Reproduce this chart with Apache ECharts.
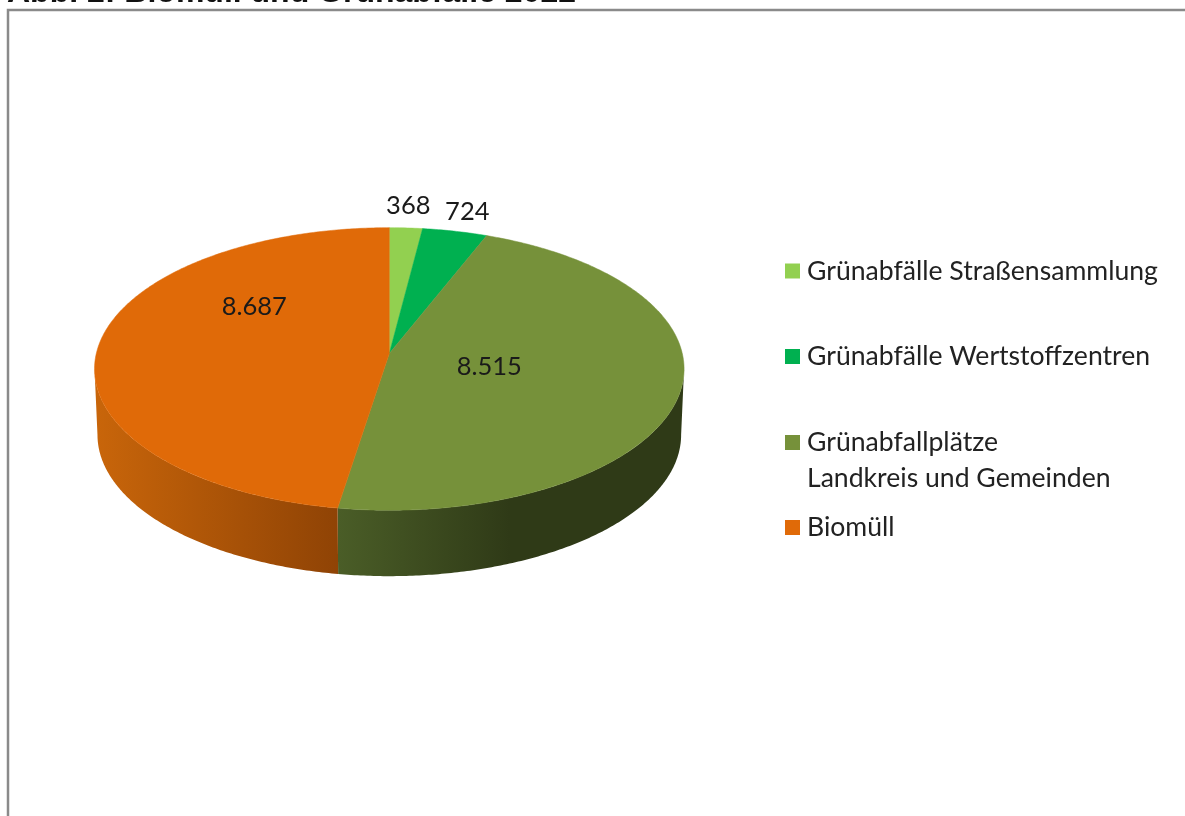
<!DOCTYPE html>
<html>
<head>
<meta charset="utf-8">
<title>Biomüll und Grünabfälle 2022</title>
<style>
  html, body { margin: 0; padding: 0; background: #fff; overflow: hidden; }
  #chart { width: 1185px; height: 816px; }
</style>
<script src="https://cdn.jsdelivr.net/npm/echarts@6/dist/echarts.min.js"></script>
</head>
<body>
<div id="chart"></div>
<script>
const titleText = 'Abb. 2: Biomüll und Grünabfälle 2022'
const categories = [
  'Grünabfälle Straßensammlung',
  'Grünabfälle Wertstoffzentren',
  'Grünabfallplätze\nLandkreis und Gemeinden',
  'Biomüll'
]
const values = [368, 724, 8515, 8687]

const topColors = ['#92D050', '#00B050', '#76913A', '#E06A08']
const sideStops = [null, null, ['#4A5D27', '#2F3A17'], ['#C8650A', '#8F4305']]
const sideFadeX = [null, null, [339, 510], [98, 339]]
// label position, px offset from the pie apex
const labelOffsets = [[19, -148], [78, -142], [100, 13], [-135, -47]]
const legendTops = [253, 338.5, 388.5, 509.5]

// perspective of the tilted disc, fitted to the picture
const tilt = 0.1095
const depth = 0.472
const baseScale = 0.99
const apex = [389.3, 353.5]
const radiusX = 293
const radiusY = 139.6
const fontName = 'Lato, Carlito, "Noto Sans", sans-serif'

const total = values.reduce((a, b) => a + b, 0)
const sideFrom = Math.acos(-tilt)
const sideTo = Math.PI * 2 - sideFrom

function rim(t, low) {
  const w = 1 + tilt * Math.cos(t)
  const x = Math.sin(t) / w
  const y = Math.cos(t) / w
  return low ? [x * baseScale, y - depth] : [x, y]
}

function arcPoints(from, to, low, api) {
  const steps = Math.max(2, Math.ceil((to - from) / 0.01))
  const pts = []
  for (let i = 0; i <= steps; i++) {
    pts.push(api.coord(rim(from + (to - from) * i / steps, low)))
  }
  return pts
}

function renderSlice(index) {
  return function(params, api) {
    const from = api.value(0)
    const to = api.value(1)
    const children = []

    const sFrom = Math.max(from, sideFrom)
    const sTo = Math.min(to, sideTo)
    if (sideStops[index] && sTo > sFrom) {
      const pts = arcPoints(sFrom, sTo, false, api).concat(arcPoints(sFrom, sTo, true, api).reverse())
      const fill = new echarts.graphic.LinearGradient(sideFadeX[index][0], 0, sideFadeX[index][1], 0, [
        { offset: 0, color: sideStops[index][0] },
        { offset: 1, color: sideStops[index][1] }
      ], true)
      children.push({ type: 'polygon', shape: { points: pts }, style: { fill: fill } })
    }

    const center = api.coord([0, 0])
    children.push({
      type: 'polygon',
      shape: { points: [center].concat(arcPoints(from, to, false, api)) },
      style: { fill: topColors[index], stroke: topColors[index], lineWidth: 0.5 }
    })

    children.push({
      type: 'text',
      x: center[0] + labelOffsets[index][0],
      y: center[1] + labelOffsets[index][1],
      style: {
        text: api.value(2).toLocaleString('de-DE'),
        fontFamily: fontName,
        fontSize: 25.5,
        fill: '#1a1a1a',
        align: 'center',
        verticalAlign: 'middle'
      }
    })
    return { type: 'group', children: children }
  }
}

let running = 0
const series = categories.map((name, i) => {
  const from = running / total * Math.PI * 2
  running += values[i]
  const to = running / total * Math.PI * 2
  return {
    type: 'custom',
    name: name,
    coordinateSystem: 'cartesian2d',
    silent: true,
    clip: false,
    itemStyle: { color: topColors[i] },
    renderItem: renderSlice(i),
    data: [[from, to, values[i]]],
    encode: { x: 0, y: 1 }
  }
})

const legends = categories.map((name, i) => ({
  data: [name],
  left: 785,
  top: legendTops[i],
  icon: 'rect',
  itemWidth: 15,
  itemHeight: 15,
  itemGap: 0,
  padding: 0,
  selectedMode: false,
  textStyle: {
    fontFamily: fontName,
    fontSize: 26.6,
    lineHeight: 36,
    color: '#222',
    padding: [0, 0, 0, 2]
  }
}))
// blank first line keeps the square level with the upper line of the two-line entry
legends[2].formatter = name => '\n' + name

const chart = echarts.init(document.getElementById('chart'), null, { renderer: 'canvas' })
chart.setOption({
  animation: false,
  backgroundColor: '#fff',
  grid: {
    left: apex[0] - radiusX,
    top: apex[1] - radiusY,
    width: radiusX * 2,
    height: radiusY * 2.5
  },
  xAxis: { type: 'value', min: -1, max: 1, show: false },
  yAxis: { type: 'value', min: -1.5, max: 1, show: false },
  legend: legends,
  graphic: [{
    type: 'polyline',
    shape: { points: [[8, 816], [8, 10], [1185, 10]] },
    style: { stroke: '#8a8a8a', lineWidth: 2.5, fill: null }
  }, {
    type: 'text',
    x: 7,
    y: 9,
    style: {
      text: titleText,
      fontFamily: '"Liberation Sans", Arial, sans-serif',
      fontSize: 32,
      fontWeight: 'bold',
      fill: '#111',
      align: 'left',
      verticalAlign: 'bottom'
    }
  }],
  series: series
})
</script>
</body>
</html>
